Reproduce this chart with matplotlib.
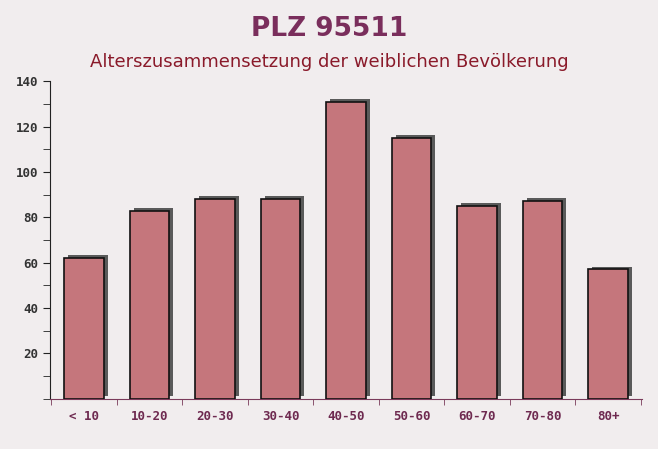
import numpy as np
import matplotlib.pyplot as plt
from matplotlib.ticker import MultipleLocator

# Altersgruppen und Anzahl Frauen
gruppen = ['< 10', '10-20', '20-30', '30-40', '40-50', '50-60', '60-70', '70-80', '80+']
werte = [62, 83, 88, 88, 131, 115, 85, 87, 57]

fig = plt.figure(figsize=(6.58, 4.49), dpi=100)
fig.patch.set_facecolor('#f1edee')
ax = fig.add_axes([0.076, 0.112, 0.9, 0.707])
ax.set_facecolor('none')

x = np.arange(len(gruppen))
# schatten hinter den balken
ax.bar(x + 0.06, werte, width=0.6, bottom=1.3, color='#5a5a5a', zorder=2)
ax.bar(x, werte, width=0.6, color='#c5767c', edgecolor='#111111', linewidth=1.2, zorder=3)

ax.set_xlim(-0.52, 8.52)
ax.set_ylim(0, 140)
ax.yaxis.set_minor_locator(MultipleLocator(10))
ax.set_xticks(x)
ax.set_xticklabels(gruppen)
ax.set_xticks(np.arange(-0.5, 9, 1), minor=True)
ax.set_yticks(np.arange(20, 141, 20))
ax.tick_params(axis='x', which='major', length=0, pad=8)
ax.tick_params(axis='x', which='minor', length=4, color='#7a3a5a')
ax.tick_params(axis='y', which='both', length=5, color='#222222')

for lab in ax.get_xticklabels():
    lab.set_fontfamily('DejaVu Sans Mono')
    lab.set_fontsize(9)
    lab.set_fontweight('bold')
    lab.set_color('#6e2a50')
for lab in ax.get_yticklabels():
    lab.set_fontfamily('DejaVu Sans Mono')
    lab.set_fontsize(9)
    lab.set_fontweight('bold')
    lab.set_color('#333333')

for s in ['top', 'right']:
    ax.spines[s].set_visible(False)
ax.spines['left'].set_color('#222222')
ax.spines['bottom'].set_color('#7a3a5a')

fig.text(0.5, 0.935, 'PLZ 95511', ha='center', va='center', fontsize=19,
         fontweight='bold', color='#7a2e5c')
fig.text(0.5, 0.862, 'Alterszusammensetzung der weiblichen Bevölkerung', ha='center',
         va='center', fontsize=13, color='#8a1a2a')

fig.savefig('out.png', dpi=100, facecolor=fig.get_facecolor())
